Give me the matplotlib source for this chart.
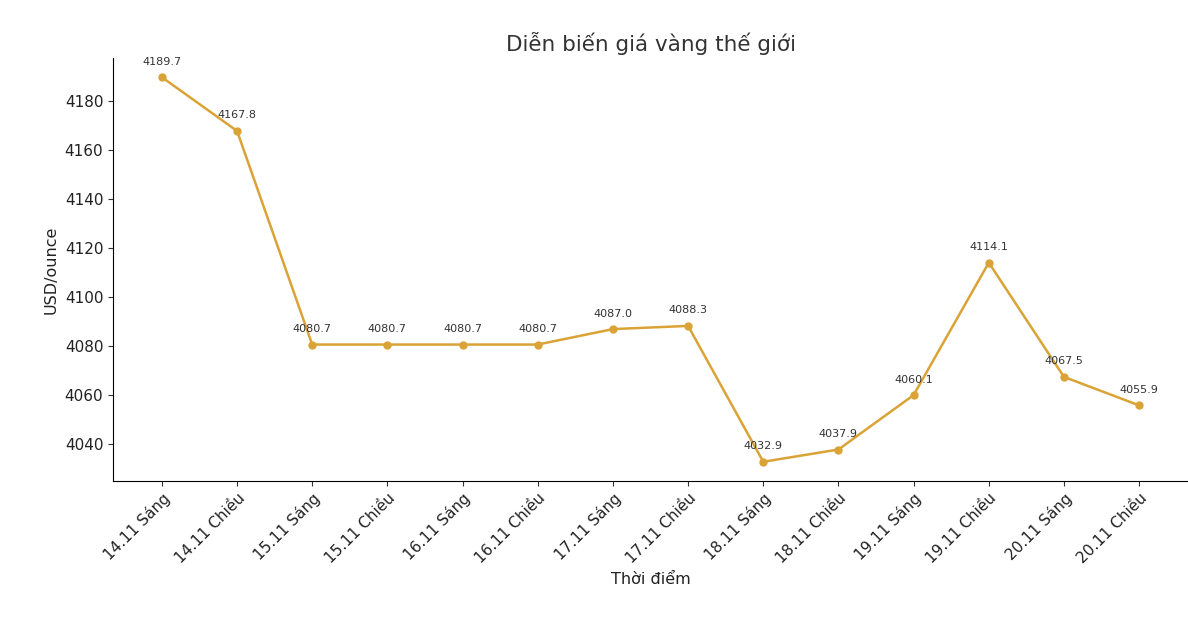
import matplotlib
matplotlib.use("Agg")
import matplotlib.pyplot as plt

labels = ["14.11 Sáng", "14.11 Chiều", "15.11 Sáng", "15.11 Chiều", "16.11 Sáng",
          "16.11 Chiều", "17.11 Sáng", "17.11 Chiều", "18.11 Sáng", "18.11 Chiều",
          "19.11 Sáng", "19.11 Chiều", "20.11 Sáng", "20.11 Chiều"]
prices = [4189.7, 4167.8, 4080.7, 4080.7, 4080.7, 4080.7, 4087.0, 4088.3,
          4032.9, 4037.9, 4060.1, 4114.1, 4067.5, 4055.9]

fig = plt.figure(figsize=(11.88, 6.24), dpi=100)
ax = fig.add_axes([113 / 1188, 1 - 481 / 624, 1075 / 1188, 423 / 624])
x = list(range(len(labels)))
ax.plot(x, prices, color="#DAA336", linewidth=1.8, marker="o", markersize=5)
for xi, v in zip(x, prices):
    ax.annotate(f"{v:.1f}", (xi, v), textcoords="offset points", xytext=(0, 9),
                ha="center", fontsize=8, color="#333333")

ax.set_xticks(x)
ax.set_xticklabels(labels, rotation=45, ha="right", rotation_mode="anchor", fontsize=11)
ax.tick_params(axis="y", labelsize=11)
ax.tick_params(direction="out", color="#333333", labelcolor="#222222")
ax.set_xlabel("Thời điểm", fontsize=11.5, color="#222222")
ax.set_ylabel("USD/ounce", fontsize=11.5, color="#222222")
ax.set_title("Diễn biến giá vàng thế giới", fontsize=15.5, color="#333333", pad=5)
for s in ("top", "right"):
    ax.spines[s].set_visible(False)
fig.savefig("out.png", dpi=100)
